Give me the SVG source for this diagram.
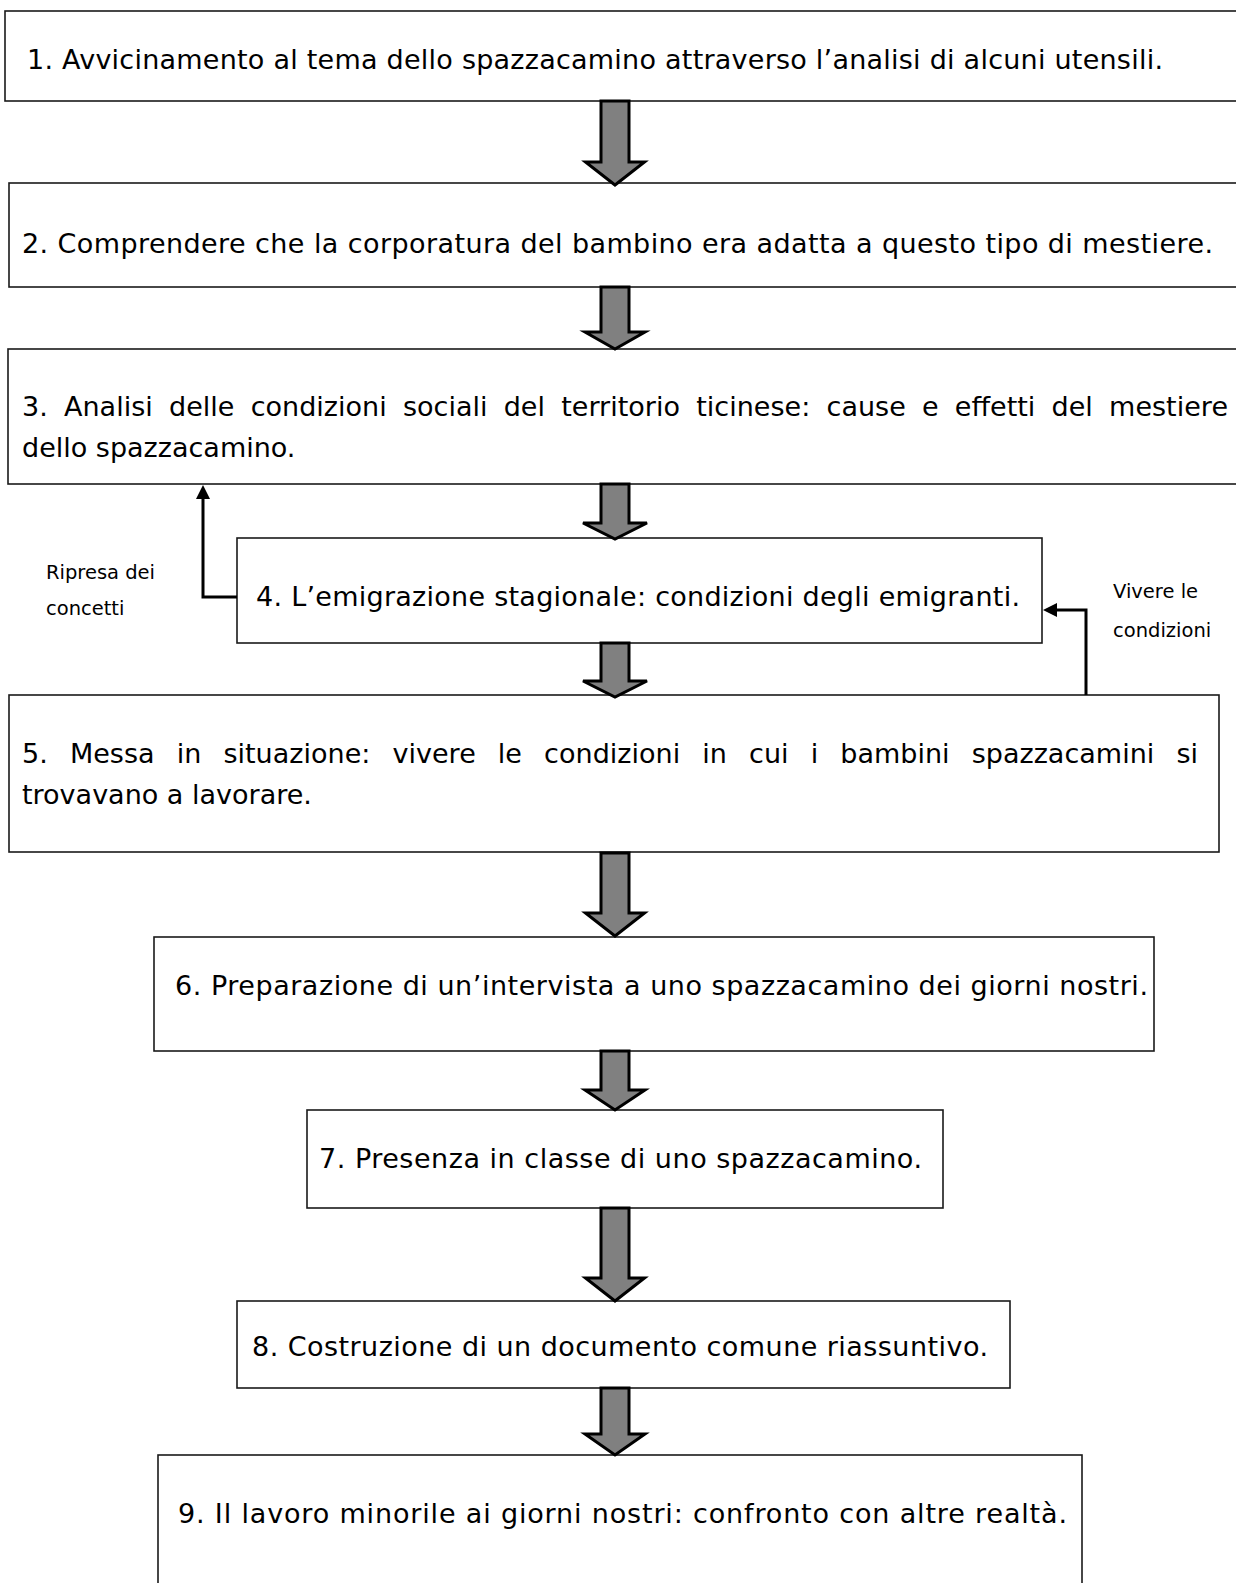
<svg xmlns="http://www.w3.org/2000/svg" width="1236" height="1583" viewBox="0 0 1236 1583">
<style>
.box{fill:#fff;stroke:#1a1a1a;stroke-width:1.6}
.t{font-family:"DejaVu Sans","Liberation Sans",sans-serif;font-size:27px;fill:#000}
.s{font-family:"DejaVu Sans","Liberation Sans",sans-serif;font-size:19.5px;fill:#000}
.arr{fill:#808080;stroke:#000;stroke-width:3;stroke-linejoin:miter}
.con{fill:none;stroke:#000;stroke-width:3}
</style>
<defs>
<marker id="ah" viewBox="0 0 14 14" refX="0" refY="7" markerWidth="14" markerHeight="14" markerUnits="userSpaceOnUse" orient="auto">
<path d="M0,0 L14,7 L0,14 Z" fill="#000"/>
</marker>
</defs>
<rect width="1236" height="1583" fill="#fff"/>
<g id="node1"><rect class="box" x="5" y="11" width="1240" height="90"/>
<text class="t" x="27" y="69" textLength="1136">1. Avvicinamento al tema dello spazzacamino attraverso l’analisi di alcuni utensili.</text></g>
<g id="node2"><rect class="box" x="9" y="183" width="1235" height="104"/>
<text class="t" x="22" y="253" textLength="1191">2. Comprendere che la corporatura del bambino era adatta a questo tipo di mestiere.</text></g>
<g id="node3"><rect class="box" x="8" y="349" width="1236" height="135"/>
<text class="t" x="22" y="416" word-spacing="7.6" textLength="1206">3. Analisi delle condizioni sociali del territorio ticinese: cause e effetti del mestiere</text>
<text class="t" x="22" y="457">dello spazzacamino.</text></g>
<g id="node4"><rect class="box" x="237" y="538" width="805" height="105"/>
<text class="t" x="256" y="606" textLength="764">4. L’emigrazione stagionale: condizioni degli emigranti.</text></g>
<g id="node5"><rect class="box" x="9" y="695" width="1210" height="157"/>
<text class="t" x="22" y="763" word-spacing="13.5" textLength="1176">5. Messa in situazione: vivere le condizioni in cui i bambini spazzacamini si</text>
<text class="t" x="22" y="804">trovavano a lavorare.</text></g>
<g id="node6"><rect class="box" x="154" y="937" width="1000" height="114"/>
<text class="t" x="175" y="995" textLength="973">6. Preparazione di un’intervista a uno spazzacamino dei giorni nostri.</text></g>
<g id="node7"><rect class="box" x="307" y="1110" width="636" height="98"/>
<text class="t" x="319" y="1168" textLength="603">7. Presenza in classe di uno spazzacamino.</text></g>
<g id="node8"><rect class="box" x="237" y="1301" width="773" height="87"/>
<text class="t" x="252" y="1356" textLength="736">8. Costruzione di un documento comune riassuntivo.</text></g>
<g id="node9"><rect class="box" x="158" y="1455" width="924" height="140"/>
<text class="t" x="178" y="1523" textLength="889">9. Il lavoro minorile ai giorni nostri: confronto con altre realtà.</text></g>
<g id="connectors">
<path class="arr" d="M601,101 H629 V162 H644.5 L615,185 L585.5,162 H601 Z"/>
<path class="arr" d="M601,287 H629 V332 H645 L615,349 L585,332 H601 Z"/>
<path class="arr" d="M601,484 H629 V523 H647 L615,539 L583,523 H601 Z"/>
<path class="arr" d="M601,643 H629 V681 H647 L615,697 L583,681 H601 Z"/>
<path class="arr" d="M601,853 H629 V913 H644.5 L615,936 L585.5,913 H601 Z"/>
<path class="arr" d="M601,1051 H629 V1090 H645 L615,1110 L585,1090 H601 Z"/>
<path class="arr" d="M601,1208 H629 V1278 H644.5 L615,1301 L585.5,1278 H601 Z"/>
<path class="arr" d="M601,1388 H629 V1434 H645 L615,1455 L585,1434 H601 Z"/>
<path class="con" d="M237,597 H203 V499" marker-end="url(#ah)"/>
<path class="con" d="M1086,695 V610 H1057" marker-end="url(#ah)"/>
</g>
<g id="labels">
<text class="s" x="46" y="579">Ripresa dei</text>
<text class="s" x="46" y="615">concetti</text>
<text class="s" x="1113" y="598">Vivere le</text>
<text class="s" x="1113" y="637">condizioni</text>
</g>
</svg>
